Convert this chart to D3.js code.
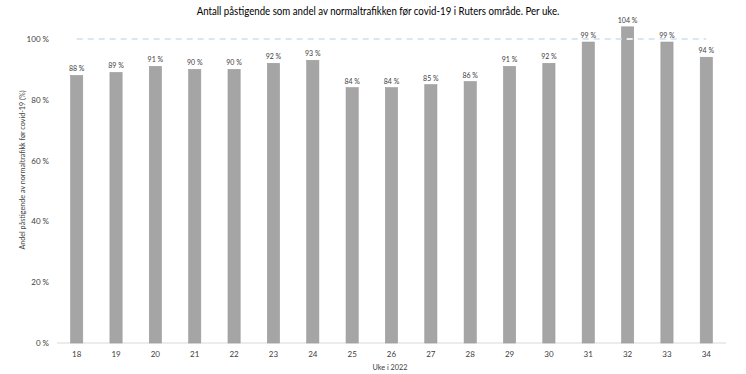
<!DOCTYPE html>
<html>
<head>
<meta charset="utf-8">
<script src="https://cdn.jsdelivr.net/npm/d3@7"></script>
<style>
  body { margin: 0; background: #fff; }
  svg { display: block; font-family: Lato, "Open Sans", sans-serif; }
</style>
</head>
<body>
<div id="chart"></div>
<script>
var weeks = ["18", "19", "20", "21", "22", "23", "24", "25", "26", "27", "28", "29", "30", "31", "32", "33", "34"];
var share = [88, 89, 91, 90, 90, 92, 93, 84, 84, 85, 86, 91, 92, 99, 104, 99, 94];
var normal = [100, 100, 100, 100, 100, 100, 100, 100, 100, 100, 100, 100, 100, 100, 100, 100, 100];
var yTicks = [0, 20, 40, 60, 80, 100];

var width = 746, height = 374;
var margin = { top: 39, right: 20, bottom: 31, left: 57 };

var svg = d3.select("#chart").append("svg")
  .attr("width", width)
  .attr("height", height);

var x = d3.scaleBand()
  .domain(weeks)
  .range([margin.left, width - margin.right])
  .paddingInner(0.69)
  .paddingOuter(0.345);

var y = d3.scaleLinear()
  .domain([0, 100])
  .range([height - margin.bottom, margin.top]);

var barX = function (d, i) { return x(weeks[i]); };
var midX = function (d, i) { return x(weeks[i]) + x.bandwidth() / 2; };

// title (reference uses a narrow font, ~363px wide -> squeeze horizontally)
var titleG = svg.append("g");
var title = titleG.append("text")
  .attr("x", 0)
  .attr("y", 0)
  .attr("text-anchor", "middle")
  .attr("font-size", "12px")
  .attr("fill", "#000")
  .text("Antall påstigende som andel av normaltrafikken før covid-19 i Ruters område. Per uke.");
var sx = Math.min(1, 363 / title.node().getComputedTextLength());
titleG.attr("transform", "translate(378,15) scale(" + sx + ",1)");

// y tick labels
svg.append("g")
  .selectAll("text")
  .data(yTicks)
  .join("text")
  .attr("x", 49)
  .attr("y", function (d) { return y(d) + 3; })
  .attr("text-anchor", "end")
  .attr("font-size", "8px")
  .attr("fill", "#404040")
  .text(function (d) { return d + " %"; });

// baseline
svg.append("line")
  .attr("x1", margin.left)
  .attr("x2", width - margin.right)
  .attr("y1", y(0))
  .attr("y2", y(0))
  .attr("stroke", "#d9d9d9")
  .attr("stroke-width", 1);

// bars
svg.append("g")
  .selectAll("rect")
  .data(share)
  .join("rect")
  .attr("x", barX)
  .attr("y", function (d) { return y(d); })
  .attr("width", x.bandwidth())
  .attr("height", function (d) { return y(0) - y(d); })
  .attr("fill", "#a5a5a5")
  .attr("stroke", "#9a9a9a")
  .attr("stroke-width", 0.6);

svg.append("clipPath")
  .attr("id", "barclip")
  .selectAll("rect")
  .data(share)
  .join("rect")
  .attr("x", barX)
  .attr("y", function (d) { return y(d); })
  .attr("width", x.bandwidth())
  .attr("height", function (d) { return y(0) - y(d); });

// value labels
svg.append("g")
  .selectAll("text")
  .data(share)
  .join("text")
  .attr("x", midX)
  .attr("y", function (d) { return y(d) - 4; })
  .attr("text-anchor", "middle")
  .attr("font-size", "7px")
  .attr("fill", "#404040")
  .text(function (d) { return d + " %"; });

// 100 % reference line
var line = d3.line()
  .x(midX)
  .y(function (d) { return y(d); });

svg.append("path")
  .datum(normal)
  .attr("d", line)
  .attr("fill", "none")
  .attr("stroke", "#b4cfe6")
  .attr("stroke-width", 1.2)
  .attr("stroke-dasharray", "6,5");

// where the dashes cross a bar they show up white
svg.append("path")
  .datum(normal)
  .attr("d", line)
  .attr("clip-path", "url(#barclip)")
  .attr("fill", "none")
  .attr("stroke", "#ffffff")
  .attr("stroke-width", 1.4)
  .attr("stroke-dasharray", "6,5");

// x tick labels
svg.append("g")
  .selectAll("text")
  .data(weeks)
  .join("text")
  .attr("x", function (d) { return x(d) + x.bandwidth() / 2; })
  .attr("y", 357)
  .attr("text-anchor", "middle")
  .attr("font-size", "8px")
  .attr("fill", "#404040")
  .text(function (d) { return d; });

// axis titles
svg.append("text")
  .attr("x", 390)
  .attr("y", 370)
  .attr("text-anchor", "middle")
  .attr("font-size", "7.3px")
  .attr("fill", "#404040")
  .text("Uke i 2022");

svg.append("text")
  .attr("transform", "translate(24.5,170) rotate(-90)")
  .attr("text-anchor", "middle")
  .attr("font-size", "7.2px")
  .attr("fill", "#404040")
  .text("Andel påstigende av normaltrafikk før covid-19 (%)");
</script>
</body>
</html>
